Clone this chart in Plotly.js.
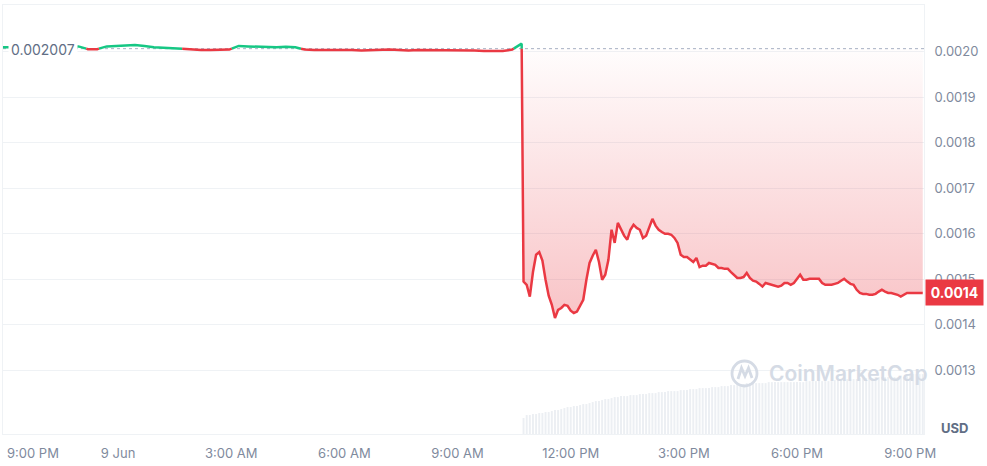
<!DOCTYPE html>
<html><head><meta charset="utf-8">
<script src="https://cdn.plot.ly/plotly-3.0.1.min.js"></script>
<style>html,body{margin:0;padding:0;background:#fff}#chart{width:987px;height:466px}</style>
</head><body><div id="chart"></div>
<script>
// ---- data ----
const openPrice = 0.002007;          // reference (opening) price
const preStartUTC = [2024, 5, 8, 20, 57];   // 8 Jun 20:57
const preStepMin = 15;
const prePrices = [
  0.002010, 0.002010, 0.002009, 0.002010, 0.002011, 0.002010, 0.002011, 0.002010,
  0.002012, 0.002006, 0.002006, 0.002012, 0.002013, 0.002014, 0.002015, 0.002013,
  0.002010, 0.002009, 0.002008, 0.002007, 0.002005, 0.002004, 0.002004, 0.002004,
  0.002005, 0.002013, 0.002012, 0.002011, 0.002011, 0.002010, 0.002011, 0.002010,
  0.002005, 0.002004, 0.002004, 0.002005, 0.002004, 0.002004, 0.002003, 0.002004,
  0.002004, 0.002005, 0.002004, 0.002003, 0.002004, 0.002004, 0.002003, 0.002004,
  0.002003, 0.002003, 0.002003, 0.002002, 0.002002, 0.002002, 0.002005, 0.002018
];
const postStartUTC = [2024, 5, 9, 10, 45];  // 9 Jun 10:45
const postStepMin = 5;
const postPrices = [
  0.001495, 0.001488, 0.001462, 0.001516, 0.001554, 0.001560, 0.001541, 0.001499,
  0.001464, 0.001444, 0.001415, 0.001433, 0.001437, 0.001444, 0.001442, 0.001431,
  0.001426, 0.001429, 0.001442, 0.001455, 0.001499, 0.001536, 0.001552, 0.001565,
  0.001538, 0.001499, 0.001510, 0.001543, 0.001609, 0.001580, 0.001624, 0.001609,
  0.001596, 0.001587, 0.001609, 0.001620, 0.001613, 0.001609, 0.001591, 0.001596,
  0.001613, 0.001633, 0.001618, 0.001609, 0.001604, 0.001600, 0.001600, 0.001598,
  0.001591, 0.001580, 0.001554, 0.001549, 0.001549, 0.001543, 0.001538, 0.001547,
  0.001527, 0.001530, 0.001530, 0.001536, 0.001534, 0.001532, 0.001525, 0.001525,
  0.001523, 0.001523, 0.001516, 0.001510, 0.001503, 0.001503, 0.001505, 0.001514,
  0.001503, 0.001497, 0.001495, 0.001490, 0.001484, 0.001492, 0.001490, 0.001488,
  0.001486, 0.001484, 0.001486, 0.001492, 0.001492, 0.001488, 0.001492, 0.001501,
  0.001510, 0.001499, 0.001499, 0.001501, 0.001501, 0.001501, 0.001501, 0.001492,
  0.001488, 0.001488, 0.001488, 0.001490, 0.001492, 0.001497, 0.001501, 0.001495,
  0.001490, 0.001488, 0.001477, 0.001470, 0.001468, 0.001468, 0.001466, 0.001466,
  0.001468, 0.001473, 0.001477, 0.001473, 0.001470, 0.001470, 0.001468, 0.001466,
  0.001462, 0.001466, 0.001470, 0.001470, 0.001470, 0.001470, 0.001470, 0.001470
];
// volume (arbitrary units, thousands) for the same 5-minute buckets after the crash
const postVolume = [
  16, 19, 19, 20, 20, 21, 21, 22, 22, 23, 24, 24, 25, 26, 27, 27,
  28, 28, 29, 30, 30, 31, 32, 33, 33, 34, 35, 35, 36, 37, 37, 38,
  38, 38, 39, 39, 39, 40, 40, 40, 41, 41, 41, 42, 42, 42, 43, 43,
  43, 43, 44, 44, 44, 45, 45, 45, 46, 46, 46, 46, 47, 47, 47, 48,
  48, 48, 49, 49, 50, 50, 50, 51, 51, 51, 51, 51, 51, 51, 52, 52,
  52, 52, 52, 52, 52, 52, 52, 52, 52, 52, 53, 53, 53, 53, 53, 53,
  53, 53, 53, 54, 54, 54, 54, 55, 55, 55, 55, 56, 56, 56, 56, 56,
  57, 57, 57, 57, 57, 57, 57, 57, 57, 57, 58, 59, 60, 60, 60, 60
];
const xRangeUTC = [[2024, 5, 8, 20, 57], [2024, 5, 9, 21, 22]];
const tickTimesUTC = [[2024,5,9,0,0],[2024,5,9,3,0],[2024,5,9,6,0],[2024,5,9,9,0],
                      [2024,5,9,12,0],[2024,5,9,15,0],[2024,5,9,18,0],[2024,5,9,21,0]];
const tickLabels = ['9 Jun', '3:00 AM', '6:00 AM', '9:00 AM', '12:00 PM', '3:00 PM', '6:00 PM', '9:00 PM'];
const firstTickLabel = '9:00 PM';
const yTickVals = [0.0013, 0.0014, 0.0015, 0.0016, 0.0017, 0.0018, 0.0019, 0.0020];
const yTickText = ['0.0013', '0.0014', '0.0015', '0.0016', '0.0017', '0.0018', '0.0019', '0.0020'];

// ---- build ----
const GREEN = '#16c784', RED = '#ea3943';
const ms = a => Date.UTC(a[0], a[1], a[2], a[3], a[4]);
const preT = prePrices.map((_, i) => ms(preStartUTC) + i * preStepMin * 60000);
const postT = postPrices.map((_, i) => ms(postStartUTC) + i * postStepMin * 60000);
const T = preT.concat(postT);
const P = prePrices.concat(postPrices);

// split the line into above/below opening price parts
const g = {x: [], y: []}, r = {x: [], y: []};
for (let i = 0; i < P.length; i++) {
  const up = P[i] >= openPrice;
  if (i > 0) {
    const pu = P[i - 1] >= openPrice;
    if (pu !== up) {
      const t = (openPrice - P[i - 1]) / (P[i] - P[i - 1]);
      const xc = T[i - 1] + t * (T[i] - T[i - 1]);
      const from = pu ? g : r, to = pu ? r : g;
      from.x.push(xc); from.y.push(openPrice);
      from.x.push(null); from.y.push(null);
      to.x.push(xc); to.y.push(openPrice);
    }
  }
  const c = up ? g : r;
  c.x.push(T[i]); c.y.push(P[i]);
}
const lowFill = P.map(v => Math.min(v, openPrice));
const minP = Math.min(...P);

const font = 'Inter, "Noto Sans", Arial, sans-serif';
const traces = [
  {x: T, y: T.map(() => openPrice), mode: 'lines', line: {width: 0, color: 'rgba(0,0,0,0)'}, hoverinfo: 'skip', showlegend: false},
  {x: T, y: lowFill, mode: 'lines', line: {width: 0, color: 'rgba(0,0,0,0)'}, fill: 'tonexty',
   fillgradient: {type: 'vertical', start: minP, stop: openPrice,
     colorscale: [[0, 'rgba(234,57,67,0.30)'], [1, 'rgba(234,57,67,0.01)']]},
   hoverinfo: 'skip', showlegend: false},
  {x: g.x, y: g.y, mode: 'lines', line: {color: GREEN, width: 2.5}, connectgaps: false, showlegend: false},
  {x: r.x, y: r.y, mode: 'lines', line: {color: RED, width: 2.5}, connectgaps: false, showlegend: false},
  {x: postT, y: postVolume, type: 'bar', yaxis: 'y2', marker: {color: '#eceff3', line: {width: 0}},
   width: postStepMin * 60000 * 0.62, showlegend: false, hoverinfo: 'skip'}
];

const lastP = P[P.length - 1];
const px = v => (v - 3) / 921, py = v => (434 - v) / 429;

const layout = {
  width: 987, height: 466,
  margin: {l: 3, r: 63, t: 5, b: 32, pad: 0},
  paper_bgcolor: '#fff', plot_bgcolor: '#fff',
  showlegend: false, hovermode: false,
  font: {family: font, color: '#808a9d', size: 13},
  xaxis: {type: 'date', range: [ms(xRangeUTC[0]), ms(xRangeUTC[1])],
    tickmode: 'array', tickvals: tickTimesUTC.map(ms), ticktext: tickLabels,
    showgrid: false, zeroline: false, showline: true, mirror: true, linecolor: '#eff2f5', linewidth: 1,
    ticks: '', ticklabelstandoff: 7, tickfont: {family: font, size: 13, color: '#808a9d'}},
  yaxis: {side: 'right', range: [0.00116, 0.002103], tickmode: 'array', tickvals: yTickVals, ticktext: yTickText,
    showgrid: true, gridcolor: '#eff2f5', zeroline: false, showline: true, mirror: true, linecolor: '#eff2f5',
    ticks: '', ticklabelstandoff: 7, tickfont: {family: font, size: 13, color: '#808a9d'}},
  yaxis2: {overlaying: 'y', range: [0, 430], visible: false, fixedrange: true},
  bargap: 0.3,
  shapes: [
    {type: 'line', xref: 'paper', x0: 0, x1: 1, yref: 'y', y0: openPrice, y1: openPrice,
     line: {color: '#a6b0c3', width: 1, dash: 'dot'}, layer: 'below'},
    {type: 'circle', xref: 'paper', yref: 'paper', x0: px(732), x1: px(757), y0: py(386), y1: py(361),
     line: {color: '#d5dbe5', width: 2.8}},
    {type: 'path', xref: 'paper', yref: 'paper',
     path: `M${px(738)},${py(379)} L${px(741.5)},${py(368)} L${px(745)},${py(376)} L${px(748.5)},${py(368)} L${px(752)},${py(378)}`,
     line: {color: '#d5dbe5', width: 2.8}}
  ],
  annotations: [
    {xref: 'paper', yref: 'y', x: px(8), y: openPrice, xanchor: 'left', yanchor: 'middle', yshift: -1,
     text: openPrice.toFixed(6), showarrow: false, bgcolor: '#fff', borderpad: 2,
     font: {family: font, size: 14, color: '#616e85'}},
    {xref: 'paper', yref: 'paper', x: px(5), y: 0, xanchor: 'left', yanchor: 'middle', yshift: -19,
     text: firstTickLabel, showarrow: false, font: {family: font, size: 13, color: '#808a9d'}},
    {xref: 'paper', yref: 'y', x: 1, y: lastP, xanchor: 'left', yanchor: 'middle', xshift: 1,
     text: '<b>' + (Math.floor(lastP * 1e4) / 1e4).toFixed(4) + '</b>', showarrow: false,
     bgcolor: RED, width: 55, height: 23, borderpad: 1, font: {family: font, size: 14, color: '#fff'}},
    {xref: 'paper', yref: 'paper', x: 1, y: 0, xanchor: 'left', yanchor: 'middle', xshift: 15, yshift: 6,
     text: '<b>USD</b>', showarrow: false, font: {family: font, size: 13, color: '#616e85'}},
    {xref: 'paper', yref: 'paper', x: px(767), y: py(373), xanchor: 'left', yanchor: 'middle',
     text: 'CoinMarketCap', showarrow: false, font: {family: font, size: 21, color: '#d5dbe5', weight: 600}}
  ]
};

Plotly.newPlot('chart', traces, layout, {staticPlot: true, displayModeBar: false});
</script>
</body></html>
